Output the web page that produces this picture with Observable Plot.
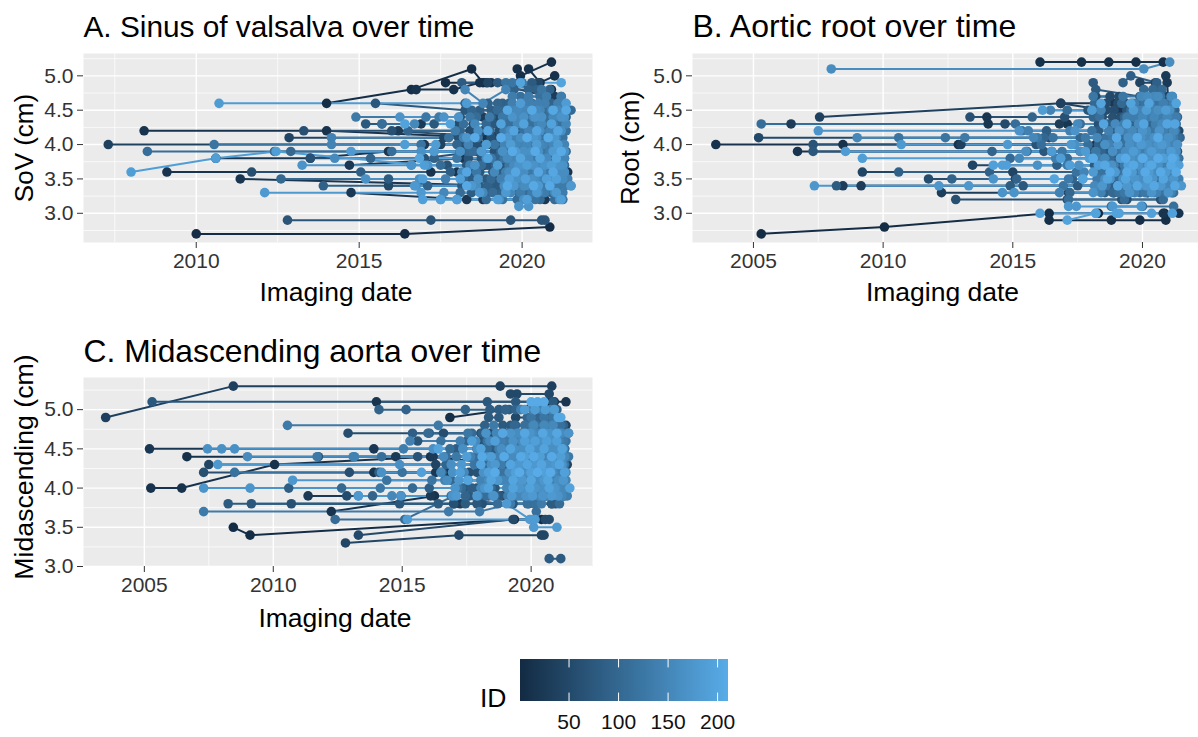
<!DOCTYPE html>
<html><head><meta charset="utf-8">
<script src="https://cdn.jsdelivr.net/npm/d3@7"></script>
<script src="https://cdn.jsdelivr.net/npm/@observablehq/plot@0.6"></script>
<style>
html,body{margin:0;padding:0;background:#fff}
#page{position:relative;width:1198px;height:737px;overflow:hidden}
#page>div{position:absolute}
svg{display:block}
</style></head><body><div id="page"></div>
<script>
// Each row: [patient ID, [value, years since 2000 ...], [next value, years ...] ...]
const sovRows = [
[3,[2.7,10,16.4],[2.8,20.85]],
[6,[4.6,14],[4.8,16.6],[5.1,18.45],[4.9,18.8]],
[8,[4.9,17.65,18.9],[4.8,20.9]],
[9,[5.1,19.85],[5,19.95],[5.2,20.9]],
[11,[5.1,20.2],[4.9,20.55],[5,21]],
[12,[4.8,16.75,17.9],[4.9,18.7,19.05],[4.7,20.8]],
[14,[4.2,8.4,14],[4.1,18.9,20],[4.1,21.15]],
[16,[3.6,9.1,17.2],[3.6,18],[3.7,18.85],[3.6,21.4]],
[18,[3.5,11.35],[3.4,19.4,19.95],[3.4,21.2]],
[19,[3.8,10.6,13.5],[3.9,15.9,19.9],[3.8,21.1]],
[21,[3.7,14.7],[3.8,18.2],[3.7,20.6]],
[22,[3.3,14.75],[3.2,18.3,18.8,19.9,20.7]],
[24,[4,17,18.7,18.95],[3.9,20.15]],
[25,[4.3,16.9,19.1,20.4]],
[27,[4.2,16.2,19.9,21.3]],
[29,[4.6,20.65,20.8],[4.7,21]],
[31,[4.4,18.8],[4.3,19.3,20.9]],
[33,[4.1,19.2,20.1,20.9]],
[35,[3.5,19.2,20.95]],
[38,[4,7.3,17.5,19.6,21]],
[42,[4.1,12.85,17.6],[4.2,19.8,20.3]],
[46,[4.9,18.95,19.9,20.5]],
[48,[3.4,15.9,19.9,21.1]],
[51,[4.5,19.6],[4.4,20.15,21.3]],
[53,[4.4,18.1,18.55,19.25,20.7]],
[54,[3.9,19.3,20.6,21.2]],
[55,[4.3,18.05,18.5,19.2,20.55]],
[57,[4.2,18.4,18.8,19.3]],
[58,[3.6,11.7,18.4,20.35]],
[59,[4.1,18.05,18.45,19.05,19.5]],
[61,[4.2,13.3,16],[4.1,19.4,20.7]],
[63,[4,18.2,18.6,19.3,19.65]],
[64,[3.8,13.5,17],[3.9,18.6,20.85]],
[65,[3.9,18.1,18.75,19.15,19.45]],
[67,[3.7,17.7,19.5,21.05]],
[69,[3.8,18.35,18.75,19.35]],
[70,[2.9,12.8,17.2,19.65,20.6,20.7]],
[71,[3.7,18.3,18.95,19.35]],
[72,[4.6,15.5],[4.5,18.25,19.7]],
[73,[3.6,18.7,19.1,19.45]],
[75,[4.3,15.2,15.7,17.3,19.1,20.3]],
[77,[3.5,18.35,18.9,19.55]],
[78,[4.9,18.15,19.25,20.3]],
[79,[3.4,18.15,18.7,19.2]],
[81,[3.5,15.9,18.5,19.75,20.5,21.25]],
[83,[3.3,18.45,18.95,19.35]],
[84,[3.6,15.05,17.8,19.3,20.2]],
[85,[4.5,18.7,19.05,19.4]],
[87,[4.4,19.05,19.8,20.55,21.35]],
[89,[4.6,18.95,19.4,19.6]],
[90,[3.4,13.9,17.1,18.95,20.7]],
[92,[3.8,15.35,17.3,19.2,20.05,20.95]],
[94,[4.6,18.25,19.25,20.6]],
[96,[4,18,18.9,19.85,20.5,21.05]],
[98,[4.2,16.5,18.1,19,20.1,21.1]],
[100,[3.9,12.4,12.9,18.3,19.55,20.8]],
[102,[3.5,12.6,18.2,19.05,20.4,21.2]],
[104,[4.5,19.25,20,20.75,21.5]],
[106,[3.3,18.1,19.1,20.15,21.2]],
[108,[3.7,17.5,18.75,19.75,20.6,21.3]],
[110,[3.9,8.5,16],[3.9,18.5,19.75,21]],
[112,[4.3,15.7,18.2,19.55,20.45,21.25]],
[114,[4.7,19.95,20.55,21.2]],
[116,[4.1,17.75,18.65,19.6,20.55,21.15]],
[118,[3.2,19.4,20.4,21.25]],
[120,[4,10.55,16.9],[4,19.15,20.2,21.2]],
[122,[4.9,19.5,19.7,20],[4.8,20.6]],
[124,[3.6,18.6,19.6,20.7,21.3]],
[126,[4.4,17.05,18.4,19.4,20.35,21.1]],
[128,[3.8,18,19.05,19.7,20.45,21.2]],
[130,[4.4,14.9,17.45,19],[4.5,20.2,21]],
[91,[4.8,19.75,20.2,20.45,20.85]],
[132,[3.4,18.5,19.6,20.25,20.95]],
[93,[4.6,19.65,20.3,20.9]],
[134,[4.2,17.95,19.45,20.25,20.95]],
[95,[3.3,19.4,19.9,20.6,20.9]],
[136,[3.9,17.3,18.75,19.95,20.85]],
[97,[4.5,18.45,19.45,20.6,21.15]],
[138,[4.6,20.05,20.5],[4.5,20.9]],
[99,[3.7,19.2,20,20.45,21.15]],
[140,[3.5,17.65,19.35,20,20.8,21.4]],
[101,[4.3,18.9,19.7,20.15,20.7,21.15]],
[142,[4.1,14.15,18.2,19.8,20.4,21.05]],
[103,[3.9,18.4,19.35,20.15,20.7,21.35]],
[144,[3.7,16.6,18.4,19.85,20.3,20.95]],
[105,[3.2,18.9,19.85,20.55,21]],
[146,[4,14.15,18.35,19.45,20.05,20.65,21.3]],
[107,[4.4,18.6,19.6,19.95,20.7,21.25]],
[148,[4.8,18.25],[4.6,18.8],[4.8,19.5]],
[109,[4.5,19.9,20.65,21.2]],
[150,[3.3,17.6,18.8,19.65,20.5,21]],
[111,[4.4,19.55,20.1,20.8,21.2]],
[152,[4.3,16.7,18.55,19.85,20.6,21.35]],
[113,[4.3,19.55,20.25,20.75,21.1]],
[154,[3.6,18.15,19.15,19.9,20.6,21.15]],
[115,[4.2,19.45,20.05,20.7,21.35]],
[156,[4.5,19.85,20.45,21.1]],
[117,[4.1,19.7,20.25,20.6,21.25]],
[158,[3.8,14.25,18.9,19.55,20.2,20.75]],
[119,[4,19.55,20.3,20.8,21.15]],
[160,[3.4,16.75,18.6,19.45,20.1,20.85]],
[121,[3.9,19.6,20.1,20.65,21.1]],
[162,[4.2,18.65,19.65,20.55,21.2]],
[123,[3.8,19.45,20.3,20.75,21.3]],
[164,[3.2,17.5,18,19.3,20.05,21.15]],
[125,[3.7,19.6,20.45,20.8,21.2]],
[166,[3.9,16.9,18.1,19.4,20.3,21.3]],
[127,[3.6,19.7,20.3,20.8,21.25]],
[168,[3.5,15.2,16.85,18.65,19.8,20.3,21]],
[129,[3.5,19.45,20.2,20.6,20.9,21.3]],
[170,[4.4,16.25,17.6,18.05,19.7,20.4,21.2]],
[131,[3.4,19.9,20.6,21.05,21.3]],
[172,[3.7,13.25,16.6,17.1,18.55,19.9,20.7,21.15]],
[133,[3.3,19.95,20.3,20.7,21.25]],
[174,[3.1,19.9,20.2]],
[135,[4.7,19.7,20.2,20.75,21.2]],
[176,[4.1,18.3,19.55,20.35,21]],
[137,[4.6,19.7,20.25,20.7,21.1]],
[178,[3.4,16.7,18.45,19.75,20.5,21.5]],
[139,[3.6,19.5,19.95,20.45,21.05]],
[180,[3.3,12.1,16.9,18.7,19.5,20.45,21.05]],
[141,[4.3,19.95,20.5,20.95]],
[182,[3.9,14.75,17.3,18.75,19.8,20.95]],
[143,[3.5,19.6,20.05,20.65,21.15]],
[184,[4.6,10.7,18.3],[4.6,19.95,21.35]],
[145,[4.2,19.6,20.2,20.85]],
[186,[4,16.4,17.35,18.9,19.65,20.45,21.1]],
[147,[3.8,19.7,20.15,20.65,21.3]],
[188,[3.6,8],[3.8,10.6],[3.9,12.45],[3.7,17],[3.7,19.25,20.15,20.9]],
[149,[4.5,19.7,20.1,20.55,21.3]],
[190,[3.2,16.95,17.5,18,19.25,20.15,21.2]],
[151,[4,19.8,20.15,20.55,20.95]],
[192,[3.5,16.95,18.1,19.6,20.1,20.75,21.05]],
[153,[4.4,19.85,20.35,20.95]],
[194,[4.3,16.4,17.8,19.35,20.05,20.9]],
[155,[3.4,19.65,20.05,20.4,21.5]],
[196,[4.9,19.95,21.2]],
[157,[3.7,19.75,20.2,20.55,21.05]],
[198,[3.8,16.85,18.95,19.95,20.55,21.05]],
[159,[3.5,19.9,20.4,21.1,21.25]],
[200,[4.2,18.95,19.75,20.45,21.1]],
[161,[3.6,19.6,20.05,21.1,21.3]],
[202,[3.6,18.3,19.8,20.5,20.95]],
[163,[4.1,19.95,20.45,20.85]],
[204,[4.5,19.55,20.3,20.95,21.35]],
[165,[3.9,20.05,20.5,21.25]],
[206,[3.4,18.3,19.55,20.35,20.85]],
[167,[4.4,20.05,20.6,21.3]],
[208,[3.9,19.7,20.4,21.2]],
[169,[3.7,20,20.35,21.1,21.25]],
[210,[4.1,18.55,19.35,20.15,20.8]]
];
const rootRows = [
[4,[2.7,5.3],[2.8,10.05],[3,16.4,18.3,20.85]],
[7,[2.9,16.4,18.8,19.9,20.9]],
[10,[5.2,16.05,17.65,18.7,19.75,20.8]],
[12,[4,3.55,8.45,12.9,18.2]],
[15,[3.9,6.7,16.5,19.9],[3.9,20.85]],
[17,[3,20.8,21.4]],
[19,[4.4,14],[4.3,14.05,17.1,19.4]],
[22,[4.6,16.85,18.9],[4.5,19.15],[4.7,20.85]],
[24,[3.8,18.6],[3.7,19.2,20.8]],
[26,[5,20.9],[4.9,20.95],[4.6,21]],
[28,[4.3,6.45,16.8,19.1]],
[30,[3.4,8.45,9.15,19.1,20.5]],
[32,[3.3,12.25,17.15,18.9,20.2]],
[34,[4,13,18.9,20.4,21.3]],
[36,[4.4,7.55],[4.6,16.85],[4.4,20.2]],
[40,[4.9,19.9,20.5],[4.7,20.95]],
[42,[3.7,13.45,18.2,20],[3.6,21]],
[44,[3.6,9.2,15],[3.5,15.1,19.3,20.75]],
[47,[4.2,19.2,20.6,21.4]],
[50,[4.1,5.2,16.4,19.5,21]],
[51,[4.7,18.2,18.75,19.1]],
[53,[4.3,14.7,18.45,20.3,21]],
[55,[4.6,18.6,19.05,19.35]],
[56,[3.5,11.75,18.5,19.9,20.75]],
[57,[4.5,18.6,18.9]],
[59,[3.2,12.8,17.1,19.2,19.4,20.7]],
[61,[4.4,18.45,18.85,19.15]],
[62,[4.4,13.35,17],[4.4,19.7,20.7]],
[63,[4.3,18.3,18.8,19.2]],
[65,[3.9,17.6,19.25,20.1,21.35]],
[67,[4.2,18.2,18.75,19.05]],
[68,[4,7.3,15.9,18.85,20.3]],
[69,[4.1,18.35,18.8,19.3]],
[71,[4.5,17.9,19.4,20.85]],
[73,[3.9,7.3,16.2,19.15,20.6]],
[75,[3.9,18.1,18.6,18.95]],
[76,[3.4,15.4,17.5,18.8,19.75,20.8]],
[77,[3.8,18.25,18.85,19.3]],
[78,[4.9,18.1],[4.8,18.2],[4.7,19.9],[4.8,20.55]],
[79,[3.7,18.15,18.65,19.05]],
[80,[3.4,8.2,14.9,18.3,20.05,21.1]],
[81,[3.6,18.3,18.6,19.2]],
[82,[4.2,16.3,18.3,19.55,20.7,21.3]],
[83,[3.5,18.35,18.8,19.2]],
[84,[4.3,18.65,19.6,20.4,21.1]],
[85,[3.4,18.4,18.95,19.25]],
[86,[3.7,16.7,18.55,19.5,20.45]],
[87,[3.3,18.55,18.9,19.2]],
[88,[5,19.55],[4.9,19.25,20.55]],
[89,[4,18.3,18.5,19.1]],
[90,[3.6,10.6,14.1,18.7,19.85,20.85]],
[92,[3.5,12.65,15.15,17.3,19.4,20.6,21.25]],
[94,[4.4,15.75,18.1,19.3,20.15,21.35]],
[96,[3.9,14.2,15.55,18.4,19.4,20.35]],
[98,[4.1,16.2,17.6,19.15,20.05,20.9,21.45]],
[100,[3.3,17.2,18.85,19.55,20.2,21.15]],
[102,[4.6,18.15,19.2,20],[4.6,20.55,21.2]],
[104,[3.8,14.9,17.1,18.75,19.7,20.5,21.4]],
[106,[3.2,17.15,19.3,20.8]],
[108,[4.5,17.1,18.3,19.55,20.4,21.1]],
[110,[4.3,5.3,15.1,17.6,19.3,20.6,21.3]],
[112,[4,16.1,17.9,19.2,20.15,20.8]],
[114,[3.1,18.8,20,21.2]],
[116,[3.6,17.45,18.4,19.45,20.3,21]],
[118,[4.2,15.35,18.05,19.7,20.35,21.2]],
[120,[4.1,10.6,12.4,16.55,18.6,19.9,21.05]],
[122,[3.4,16.95,18.6,19.6,20.25,20.95]],
[124,[4.7,18.1,19.25,20.1,20.7,21.15]],
[126,[3.9,16.9,18.2,19.25,20,20.85]],
[128,[3.7,17.1,18.35,19.3,20.15,20.9]],
[130,[4.1,13.15,15.95,17.8,18.85,19.75,20.5]],
[91,[4.5,19.85,20.25,20.7,21.25]],
[132,[3.5,17.15,18.25,19.45,20.1,21.05]],
[93,[4.3,19.75,20.15,20.6,21.2]],
[134,[4.4,19.4,20.25,21.3]],
[95,[3.6,19,19.9,20.45,21.1]],
[136,[3.8,16.65,18.3,19.6,20.5,21.2]],
[97,[4.2,19.5,20.05,20.55,21.05]],
[138,[4.6,19.7,20.3,20.8,21.2]],
[99,[3.9,19.55,20.2,20.7,21.25]],
[140,[4.2,15.6,17.2,18.7,19.3,20.15,20.8,21.25]],
[101,[3.4,19.35,20.1,20.6,21.2]],
[142,[3.3,16.8,18.4,19.7,20.55,21.1]],
[103,[4.8,20.05,20.4,20.75]],
[144,[4,18.7,19.6,20.35,21.1]],
[105,[3.7,19.7,20.2,20.6,21.05]],
[146,[4.5,16.45,18.4,19.75,20.5,21]],
[107,[4.1,19.35,20.2,20.6,21.35]],
[148,[3.6,17.75,18.9,19.6,20.55,21.25]],
[109,[3.5,19.1,19.75,20.5,21.35]],
[150,[4.1,9,15.8,18.25,19.65,20.3,21.1]],
[111,[3.3,19.1,19.9,20.7,21.2]],
[152,[3.8,15.25,18.55,19.85,20.65,21.05]],
[113,[4.4,18.35,19.85,20.6,21]],
[154,[4.7,19.95,20.45,21.1]],
[115,[4,19.25,19.9,20.55,21.2]],
[156,[3.4,18.15,19.05,19.9,20.75,21.3]],
[117,[3.9,19,20.05,20.45,21.05]],
[158,[4.3,17.5,18.95,19.85,20.75]],
[119,[4.6,19.6,20.1,20.5,20.95]],
[160,[5.1,8,20.05],[5.2,21.05]],
[121,[3.6,19.3,20.15,20.75,21.15]],
[162,[3.5,18.55,19.25,19.95,20.85]],
[123,[3.8,19.45,20.3,20.75,21.35]],
[164,[3.9,15.5,17.6,18.85,19.75,20.55,21.3]],
[125,[4.2,19.25,19.85,20.45,21.1]],
[166,[4,17.4,18.55,19.5,20.2,20.9]],
[127,[3.3,19.3,20.1,20.45,20.95]],
[168,[3.7,15.95,17.55,18.8,19.85,20.6,21.3]],
[129,[4.1,19.6,20.05,20.85,21.2]],
[170,[4.2,7.5,15.25,17.4,19.1,20,20.65]],
[131,[3.6,18.85,19.75,20.35,21.2]],
[172,[3.3,14.6,15.05,18.1,19.5,20.35,21]],
[133,[4.4,19.65,20.1,20.7,21.2]],
[174,[3.5,14.25,17.7,18.75,19.7,20.4,21.2]],
[135,[3.9,19.9,20.4,20.9]],
[176,[3.4,7.35,12.15,13.3,18.45,19.4,20.15,20.7,21.5]],
[137,[3.7,18.9,19.6,20.05,20.8]],
[178,[3.1,17.15,17.45,18.85,19.95]],
[139,[4.3,19.3,20,20.5,21.15]],
[180,[4,10.7,14.8,17.25,19.05,19.95,20.75]],
[141,[3.5,19.55,20.25,20.95,21.4]],
[182,[3.6,18.1,18.95,19.6,20.25,20.9]],
[143,[4.5,19.95,20.4,20.8]],
[184,[3.9,8.55,16.5,17.8,19.65,20.35,21.1]],
[145,[3.8,19.25,20.15,20.55,21]],
[186,[4.5,16.15,18.05,19.65,20.15,20.9]],
[147,[4.1,19.8,20.3,20.75]],
[188,[3.8,9.2,16.85,17.95,19.15,20.05,20.8,21.25]],
[149,[3.4,19.55,20.35,20.85,21.1]],
[190,[3.7,14.25,14.6,14.75,17.2,18.3,19.45,20.25,21.4]],
[151,[4.4,20,20.45,20.95]],
[192,[3,16.05,18.2,19.1,20.35,21.15]],
[153,[4,19.85,20.25,20.8]],
[194,[2.9,17.1],[3,18.2,19]],
[155,[4.2,19.6,20.15,20.65,21.2]],
[196,[4.6,18.4,19.55,20.25,21.3]],
[157,[3.6,19.45,20,20.5,21.25]],
[198,[3.5,16.6,17.7,18.65,19.35,20.2,20.8]],
[159,[4.7,20.2,20.6,21.15]],
[200,[4.3,18.5,19.4,20.05,20.95,21.25]],
[161,[3.9,19.35,19.75,20.25,20.7]],
[202,[3.4,19.05,19.8,20.45,21.25]],
[163,[4.5,20.15,20.6,21.05]],
[204,[3.7,18.55,19.65,20.35,21.1]],
[165,[4.1,19.45,19.95,20.45,21]],
[206,[4.1,19,19.8,20.6]],
[167,[3.8,19.55,19.95,20.4,20.9]],
[208,[3.6,18.75,19.4,20.1,20.7,21.3]],
[169,[4,20,20.6,21.35]],
[210,[3.8,18.1,19.35,20,20.6,21.15]]
];
const midRows = [
[5,[3.5,8.45],[3.4,9.1],[3.6,19.35,20.4]],
[8,[4.9,16.85],[5,19],[5.1,20.7]],
[10,[4.4,6.65,18.8,20.4]],
[12,[4,5.25,6.45],[4.3,10.05],[4.4,16.1],[4.3,19.1]],
[14,[3.7,12.25],[3.9,16.25,18.9,20.9]],
[16,[4.2,13.9,16.7,18.6,21.2]],
[18,[5.1,14,20.9,21.35]],
[20,[4.5,5.2,13.9,18.4,19.9]],
[22,[4.2,16.3,19.2],[4.1,20.95]],
[24,[3.9,11.35,16.1,18.1,20.5]],
[26,[4.4,14.75,16.2,18.9,20.6]],
[28,[3.8,17,17.25,20.8]],
[31,[4,19.15,20.85,21.25]],
[35,[4.9,3.5],[5.3,8.45,18.8,20.8]],
[38,[4.6,18.95],[4.7,20.6],[4.8,21.35]],
[41,[4.3,7.5,16.3,19.75,21.4]],
[44,[4.5,17.9,19.15,20.8]],
[46,[3.3,12.8],[3.4,17.2,20.4,20.5]],
[48,[4.9,19.4,20.35]],
[50,[5.2,19.2,19.45,20.7]],
[51,[4.7,18.05,18.5,18.95]],
[52,[3.4,13.3],[3.6,19.3,20.55,20.7]],
[53,[4.6,18.1,18.6,19.1]],
[54,[3.9,12.85,14.95,18.35,19.4,20.8]],
[55,[4.5,18.45,18.8,19.35]],
[57,[4.7,12.9,16.6,18.4,20.1,21.2]],
[59,[4.4,18.5,19.1]],
[60,[4.2,7.3,12.95,17.6,19.65,21.05]],
[61,[4.3,18.3,18.75,19.2]],
[63,[3.8,10.7,17,18.1,20.95]],
[65,[4.2,17.9,18.5,19.3]],
[66,[4.4,11.75,15.6,18.05,19.6,20.75]],
[67,[4.1,18.25,18.7,19.05]],
[69,[4.6,15.6,18.2,19.45,21.3]],
[71,[4,17.4,17.9,18.6,19.1]],
[72,[3.8,9.15,14.9,17.9,19.3]],
[73,[3.9,17.6,18.2,18.8,19.35]],
[75,[5.1,5.3,18.3,19.4,20.85]],
[77,[4.8,18.9,19.2]],
[78,[3.1,20.7,21.15]],
[79,[4.9,18.35,18.75]],
[80,[3.8,8.25,16.4,17.45,19.9,20.8]],
[81,[4.7,19.05,19.35]],
[82,[4.5,17.1,18.6,19.25,20.5,21.3]],
[83,[5,18.4,18.75,19.15]],
[84,[4,10.6,16.05,17.7,19.8,20.55]],
[86,[4.7,15.4,16.05,18.1,19.6,20.7,21.4]],
[88,[4.2,14.1,16.55,18.4,19.95,20.6]],
[90,[4.8,18.2,19.4,20.25,21.25]],
[92,[5,14.1,15.15,17.45,19],[5,19.4,20.2,21]],
[94,[3.9,13.85,17.45,18.6,19.7,20.6,21.3]],
[96,[4.3,16.7,18.15,19.3,20.2,21.1]],
[98,[4.6,17.5,18.75,19.75,20.55]],
[100,[4.1,16.9,18.5,19.4,20.3,21.15]],
[102,[4,12.65,15.4,17.3,18.45,19.45,20.35,21]],
[104,[4.7,16,17.7,19.3,20.4,20.85]],
[106,[3.6,12.4,15.1],[3.9,17],[3.8,18.7,20.15,21.1]],
[108,[4.5,16.85,18.3,19.55,20.25,21.15]],
[110,[3.9,16.9,18.25,19.2,20.45,21]],
[112,[4.4,14.2,16.7,17.85,19.8,20.45,21.25]],
[114,[3.8,19.85,20.15],[3.7,20.2]],
[116,[4.2,8.5,15,17.35,18.9,19.85,20.75]],
[118,[4.6,16.5,18.3,19.25,20,20.85,21.35]],
[120,[4.1,14.4,16.15,17.55,18.8,19.8,20.6,21.2]],
[122,[4.3,17.8,18.55,19.4,20.1,20.95]],
[124,[4.7,17.55,18.85,19.95,20.65,21.45]],
[126,[4,14.15,17.15,18.15,19.3,20.05,20.75]],
[128,[4.4,11.7,17.1,18.2,19.45,20.35,21.45]],
[130,[4.8,10.55,16.4,18.55,20.05,20.65]],
[132,[3.7,7.3,16.8,18],[3.8,19.2,20.4]],
[134,[4.5,15.05,17.35,19.05,19.9,20.7]],
[136,[3.9,17.95,19.1,19.9,20.55,21.4]],
[97,[4.9,19.85,20.3,20.7]],
[138,[4.2,18.3,19.6,20.4,21.3]],
[99,[4.8,19.35,19.8,20.35,20.95]],
[140,[4.6,15.3,17.25,18.85,19.85,20.4,21.1]],
[101,[4.3,19.15,19.75,20.4,20.85]],
[142,[4.4,13.1,13.15,17.65,18.75,19.7,20.5,21.1]],
[103,[4.1,19.1,19.7,20.15,20.8]],
[144,[4.1,16.65,18.05,19.15,20,20.7,21.35]],
[105,[4.5,19.5,20.05,20.6,21.3]],
[146,[4.3,19.25,20.35,21]],
[107,[4,19.6,20.25,20.85,21.3]],
[148,[4.7,18.65,19.45,20.3,21.2]],
[109,[4.6,18.55,19.5,20.2,20.7]],
[150,[3.9,13.3,14.6,18.5,19.6,20.3,21.2]],
[111,[4.2,19.05,19.7,20.5,21.15]],
[152,[4.2,16.5,17.4,19.3,20.05,20.85,21.35]],
[113,[4.8,19.75,20.2,20.75,21.15]],
[154,[4,18.05,19.05,19.75,20.45,21.25]],
[115,[4.4,19.05,20,20.65]],
[156,[4.6,17.85,18.4,19.65,20.3,20.95]],
[117,[4.1,19.25,19.9,20.45,20.95]],
[158,[4.4,9,16.6,18.3,19.25,20.2,20.9]],
[119,[4.3,19.45,19.95,20.55,21.3]],
[160,[4.1,16.75,18.35,19.5,20.25,21.05]],
[121,[3.9,19.35,20,20.7,21.25]],
[162,[4.5,17.35,18.85,19.7,20.45,20.95]],
[123,[4.9,20,20.5,20.85]],
[164,[4.3,14.9,16.9,18.45,19.55,20.1,20.85]],
[125,[4.7,19.1,19.7,20.2,20.9]],
[166,[4.5,7.45,8,8.5,16.2,17.9,19.35,20.05,21.05]],
[127,[4,19.45,20.1,20.55,21.15]],
[168,[4.2,14.2,16.95,18.15,19.15,19.95,20.7]],
[129,[4.6,19.05,19.6,20.05,20.8,21.25]],
[170,[3.9,14.95,16.95,18.55,19.8,20.45,21.05]],
[131,[4.3,18.85,19.65,20.25,21.25]],
[172,[4.7,18.25,19.2,19.95,20.7,21.45]],
[133,[4.1,19.55,20.1,20.65,21.3]],
[174,[4,7.3,9.1,17.05,18.2,19.55,20.15,20.9]],
[135,[4.5,18.75,19.8,20.35,20.85]],
[176,[4.1,10.75,17.2,18.7,19.65,20.5,21.25]],
[137,[4.4,19.35,19.85,20.25,21]],
[178,[4.3,7.85,17.3,18.6,19.5,20.2,20.95]],
[139,[4.2,19.45,20,20.5,21.05]],
[180,[3.9,13.3,17.1,17.9,19.25,20.05,20.8]],
[141,[5,19.6,20.05,20.4,20.75]],
[182,[3.8,19.05],[3.6,19.95],[3.5,20.1],[3.5,21]],
[143,[4,19.75,20.3,20.8]],
[184,[3.6,15.2,20],[3.6,20.15]],
[145,[4.6,19.95,20.5,20.95]],
[186,[5,19.75,20.15,20.55,20.9]],
[147,[4.1,18.9,19.75,20.2,20.7]],
[188,[4.4,17.5,18.45,19.75,20.35,21.15]],
[149,[4.3,19.7,20.15,20.65,21.05]],
[190,[4.6,17.7,18.6,19.75,20.15,20.6,21]],
[151,[3.9,19.5,19.95,20.6,21.1]],
[192,[4.2,15.75,17.25,18.35,19.4,20,20.55,21.3]],
[153,[4.8,20.1,20.5,20.85]],
[194,[4,18.35,19.3,19.95,20.7,21.5]],
[155,[4.4,19.5,20.1,20.75,21.3]],
[196,[4.5,16.4,18.05,19.2,19.95,20.5,21.2]],
[157,[4.1,19.4,20.05,20.6]],
[198,[4.1,17.55,18.45,19.3,20,20.65]],
[159,[4.7,19.5,20.05,20.55,21.1]],
[200,[4.3,18.05,19.2,19.85,20.4,21.1]],
[161,[4.2,19.8,20.25,20.8]],
[202,[4.7,18.9,19.75,20.45,21]],
[163,[4.5,19.65,20.15,20.8,21.25]],
[204,[4.9,21.05,21.15]],
[165,[4,19.85,20.4,20.95]],
[206,[4.4,18.1,18.95,19.6,20.1,20.8]],
[167,[4.6,19.3,19.85,20.3,20.75]],
[208,[5.1,20,20.25,20.5]],
[169,[4.3,19.6,20.05,20.6,21.2]],
[210,[4.2,18.6,19.55,20.25,20.75]]
];

const idDomain = [1, 211];
const idColors = ["#132B43", "#58ACE8"];
const legendTicks = [50, 100, 150, 200];
const sovXTicks = [2010, 2015, 2020], sovXMinor = [2007.5, 2012.5, 2017.5];
const lateXTicks = [2005, 2010, 2015, 2020], lateXMinor = [2007.5, 2012.5, 2017.5];
const upperYTicks = [3, 3.5, 4, 4.5, 5], upperYMinor = [2.75, 3.25, 3.75, 4.25, 4.75, 5.25];
const midYTicks = [3, 3.5, 4, 4.5, 5], midYMinor = [3.25, 3.75, 4.25, 4.75, 5.25];
const xTitle = "Imaging date";
const font = "'Liberation Sans', Arial, sans-serif";
const ink = "#333333";
const colorScale = {type: "linear", domain: idDomain, range: idColors, interpolate: "rgb"};

function toPoints(rows) {
  const out = [];
  for (const [id, ...segments] of rows)
    for (const [value, ...years] of segments)
      for (const y of years) out.push({id, year: 2000 + y, value});
  return out.sort((a, b) => a.id - b.id || a.year - b.year);
}

function panel(o) {
  const pts = toPoints(o.rows);
  const svg = Plot.plot({
    width: o.width, height: o.height,
    marginLeft: o.ml, marginRight: o.mr, marginTop: o.mt, marginBottom: o.mb,
    style: {fontFamily: font, background: "transparent", overflow: "visible"},
    x: {domain: o.xd, label: null},
    y: {domain: o.yd, label: null},
    color: colorScale,
    marks: [
      Plot.frame({fill: "#EBEBEB", stroke: null}),
      Plot.gridX(o.xMinor, {stroke: "#fff", strokeOpacity: 1, strokeWidth: 0.7}),
      Plot.gridY(o.yMinor, {stroke: "#fff", strokeOpacity: 1, strokeWidth: 0.7}),
      Plot.gridX(o.xTicks, {stroke: "#fff", strokeOpacity: 1, strokeWidth: 1.4}),
      Plot.gridY(o.yTicks, {stroke: "#fff", strokeOpacity: 1, strokeWidth: 1.4}),
      Plot.axisX({ticks: o.xTicks, tickFormat: d => String(d), tickSize: 6, tickPadding: 5, fontSize: 21, color: ink, label: null}),
      Plot.axisY({ticks: o.yTicks, tickFormat: d => d.toFixed(1), tickSize: 6, tickPadding: 4, fontSize: 21, color: ink, label: null}),
      Plot.line(pts, {x: "year", y: "value", z: "id", stroke: "id", strokeWidth: 2, curve: "linear"}),
      Plot.dot(pts, {x: "year", y: "value", fill: "id", r: 4.8, stroke: null}),
      Plot.text([o.title], {text: d => d, frameAnchor: "top-left", dy: o.titleDy, textAnchor: "start", lineAnchor: "bottom", fontSize: o.titleSize, fill: "#000"}),
      Plot.text([xTitle], {text: d => d, frameAnchor: "bottom", dx: o.xDx, dy: o.xDy, textAnchor: "middle", lineAnchor: "middle", fontSize: 26.5, fill: "#000"}),
      Plot.text([o.yTitle], {text: d => d, frameAnchor: "left", dx: o.yDx, dy: o.yDy, rotate: -90, textAnchor: "middle", lineAnchor: "middle", fontSize: o.ySize, fill: "#000"})
    ]
  });
  const box = document.createElement("div");
  box.style.left = o.left + "px"; box.style.top = o.top + "px";
  box.append(svg);
  document.getElementById("page").append(box);
}

panel({rows: sovRows, left: 0, top: 0, width: 600, height: 310, ml: 83, mr: 8, mt: 53, mb: 68,
  xd: [2006.54, 2022.16], yd: [2.575, 5.325], xTicks: sovXTicks, xMinor: sovXMinor, yTicks: upperYTicks, yMinor: upperYMinor,
  title: "A. Sinus of valsalva over time", titleSize: 29.8, titleDy: -17, xDx: -2, xDy: 50, yTitle: "SoV (cm)", yDx: -59, yDy: 0, ySize: 26});
panel({rows: rootRows, left: 600, top: 0, width: 598, height: 310, ml: 92, mr: 0, mt: 53, mb: 68,
  xd: [2002.65, 2022.16], yd: [2.575, 5.325], xTicks: lateXTicks, xMinor: lateXMinor, yTicks: upperYTicks, yMinor: upperYMinor,
  title: "B. Aortic root over time", titleSize: 32, titleDy: -17, xDx: -3, xDy: 50, yTitle: "Root (cm)", yDx: -62, yDy: 0, ySize: 26});
panel({rows: midRows, left: 0, top: 310, width: 600, height: 320, ml: 83, mr: 8, mt: 67, mb: 64,
  xd: [2002.64, 2022.38], yd: [3, 5.41], xTicks: lateXTicks, xMinor: lateXMinor, yTicks: midYTicks, yMinor: midYMinor,
  title: "C. Midascending aorta over time", titleSize: 31.8, titleDy: -16, xDx: -3, xDy: 52, yTitle: "Midascending (cm)", yDx: -59, yDy: -5, ySize: 26.7});

const legendSvg = Plot.plot({
  width: 300, height: 97, marginLeft: 60, marginRight: 32, marginTop: 19, marginBottom: 36,
  style: {fontFamily: font, background: "transparent", overflow: "visible"},
  x: {domain: idDomain, label: null}, y: {domain: [0, 1], label: null, axis: null},
  color: colorScale,
  marks: [
    Plot.rect(d3.range(idDomain[0], idDomain[1]), {x1: d => d, x2: d => Math.min(d + 3, idDomain[1]), y1: 0, y2: 1, fill: d => d, shapeRendering: "crispEdges"}),
    Plot.ruleX(legendTicks, {y1: 0, y2: 0.2, stroke: "#fff", strokeWidth: 1}),
    Plot.ruleX(legendTicks, {y1: 0.8, y2: 1, stroke: "#fff", strokeWidth: 1}),
    Plot.axisX({ticks: legendTicks, tickSize: 0, tickPadding: 13, fontSize: 21, color: "#111", label: null}),
    Plot.text(["ID"], {text: d => d, frameAnchor: "bottom-left", dx: -14, dy: -3, lineAnchor: "middle", textAnchor: "end", fontSize: 26.5, fill: "#000"})
  ]
});
const lb = document.createElement("div");
lb.style.left = "460px"; lb.style.top = "640px";
lb.append(legendSvg);
document.getElementById("page").append(lb);
</script></body></html>
